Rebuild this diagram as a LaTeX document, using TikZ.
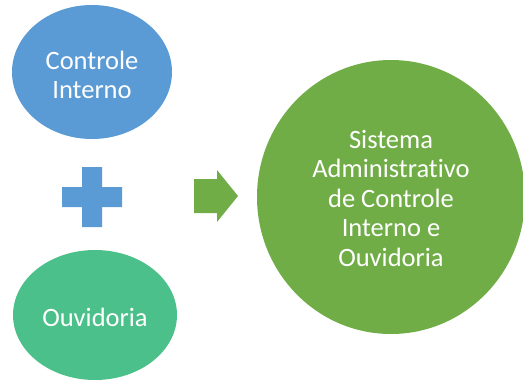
\documentclass[tikz,border=0pt]{standalone}
\usepackage{fontspec}
\setmainfont[Ligatures=NoCommon]{Carlito}
\definecolor{cblue}{HTML}{5B9BD5}
\definecolor{cteal}{HTML}{4CC08A}
\definecolor{cgreen}{HTML}{70AD47}
\begin{document}
\begin{tikzpicture}[x=1pt,y=-1pt,
  lbl/.style={text=white, font=\fontsize{26.5}{29.5}\selectfont, align=center, inner sep=0pt}]
\useasboundingbox (0,0) rectangle (523,383);
% top ellipse
\fill[cblue] (92,72) ellipse [x radius=80, y radius=67];
\node[lbl] (ci) at (92,75) {Controle\\Interno};
% bottom ellipse
\fill[cteal] (95,315) ellipse [x radius=82, y radius=65];
\node[lbl] (ov) at (95,317) {Ouvidoria};
% big circle
\fill[cgreen] (391,197) ellipse [x radius=134, y radius=137];
\node[lbl] (sa) at (391,198) {Sistema\\Administrativo\\de Controle\\Interno e\\Ouvidoria};
% plus
\fill[cblue] (82,167) -- (102,167) -- (102,187) -- (122,187) -- (122,207) -- (102,207)
  -- (102,227) -- (82,227) -- (82,207) -- (62,207) -- (62,187) -- (82,187) -- cycle;
% arrow
\fill[cgreen] (194,179) -- (217,179) -- (217,170) -- (238,196) -- (217,222) -- (217,213)
  -- (194,213) -- cycle;
\end{tikzpicture}
\end{document}
